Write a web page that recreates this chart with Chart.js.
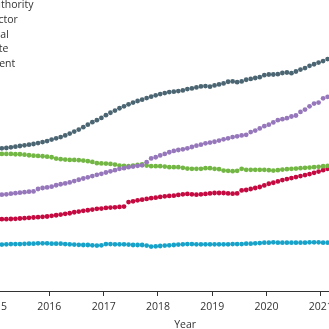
<!DOCTYPE html>
<html><head><meta charset="utf-8">
<script src="https://cdn.jsdelivr.net/npm/chart.js@4"></script>
<style>
html,body{margin:0;padding:0;width:329px;height:329px;overflow:hidden;background:#fff;}
#wrap{position:absolute;left:-60px;top:0;width:460px;height:332px;}
.lg{position:absolute;font-family:"Open Sans";font-size:10.5px;color:#333;white-space:nowrap;text-align:right;line-height:14px;}
</style></head><body>
<div id="wrap"><canvas id="c" width="460" height="332"></canvas></div>
<div id="legend"></div>
<script>
// ---- data ----
const months = [
"2015-01","2015-02","2015-03","2015-04","2015-05","2015-06","2015-07","2015-08","2015-09","2015-10","2015-11","2015-12",
"2016-01","2016-02","2016-03","2016-04","2016-05","2016-06","2016-07","2016-08","2016-09","2016-10","2016-11","2016-12",
"2017-01","2017-02","2017-03","2017-04","2017-05","2017-06","2017-07","2017-08","2017-09","2017-10","2017-11","2017-12",
"2018-01","2018-02","2018-03","2018-04","2018-05","2018-06","2018-07","2018-08","2018-09","2018-10","2018-11","2018-12",
"2019-01","2019-02","2019-03","2019-04","2019-05","2019-06","2019-07","2019-08","2019-09","2019-10","2019-11","2019-12",
"2020-01","2020-02","2020-03","2020-04","2020-05","2020-06","2020-07","2020-08","2020-09","2020-10","2020-11","2020-12",
"2021-01","2021-02","2021-03","2021-04","2021-05","2021-06"];

const seriesNames = ["Local authority","Voluntary sector","Individual","Private","Independent"];

const slate = [143.5,143.7,144,144.7,145.3,146,146.7,147.3,148,149,150,151,
152.5,153.7,155,156.7,158.5,160.5,162.5,165,167.5,170,172,174.3,
177,179.5,181.7,184,186,188,189.7,191.3,192.7,194.3,195.7,197,
198.3,199.3,200.3,200.7,201.3,202,203.3,204,205,206,206.3,205.7,
207,208,209,210.7,211,210.3,211,212.7,213.5,214.5,215.3,217.3,
218,218,218.3,219.5,220,219.3,221,223,224.5,226.7,228.3,230,
231.5,233.5,234.5,235.5,236.5,237.5];

const purple = [96.7,97,97.3,98,98.5,99,99.5,100,100.3,102.7,103.7,104.3,
105,106.5,107.5,108.3,109.3,110.7,112,113.3,114.5,115.7,117,118,
119.3,120.5,121.7,123,123.7,124.7,125.3,126,126.5,129.7,133.5,134.7,
136.5,138,139.7,141,142,142.7,143.7,145,146.3,147.3,148.7,149.5,
150.3,151.5,152.7,153.7,155,155.7,156.7,157.3,160,161.5,163.7,166,
167.5,169.7,172,173,174,175.7,176.7,180.3,182.7,186,188.7,189.7,
194,195.5,196,197,198,199];

const green = [138,138,138,138,137.7,137.7,137.3,136.7,136.3,136,135.7,135.3,
134.7,133.3,132.7,132.3,132,132,131.7,131.3,130.7,130,128.7,128.5,
128.3,128,127.3,126.3,126,125.7,126.3,127,127.5,126.3,125.7,125.7,
125.7,125.3,124.7,124.7,124.7,124,123.3,123,123,123,123.7,123.7,
123,122.7,121.3,121,120.7,121,123,122,122,122,122,122,
121.7,121.3,121.7,122.3,122.7,123,123.3,123.7,124,124.3,124.7,125,
125.7,126,126.3,126.7,127,127.3];

const crimson = [72.3,72.3,72.3,72.5,72.7,73,73.3,73.7,74,74.3,74.7,75,
75.7,76.3,77,77.7,78.3,79.3,80,80.7,81.3,82,82.7,83,
83.7,84,84.3,84.7,85,89.5,90.3,91.3,92,92.7,93.5,94,
94.7,95.3,95.7,96,96.7,97.3,97.7,97.3,97,97.3,97.7,98.3,
98.7,98.7,98.7,98.3,98,98.3,101.3,101.7,102.7,103.7,104.7,106.3,
108,109,110.3,111.7,112.7,113.7,114.7,115.7,116.7,117.7,119,120.3,
121.7,123,124,125,126,127];

const cyan = [46.5,46.7,47,47.3,47.3,47.3,47.5,47.7,47.7,48,48,48,
47.7,47.7,47.7,47.3,47,46.7,46.5,46.3,46.3,46,45.7,46,
47.3,47.3,47,47,47,46.7,46.3,46.3,46.3,45.7,44.7,45,
45.3,45.7,46,46.3,46.7,47,47.3,47.3,47,47,47,47,
47,47,47,47,47.3,47.3,47.3,47.7,47.7,48,48.3,48.7,
48.7,49,48.7,48.7,48.7,48.7,48.7,48.7,48.7,49,49,49,
48.7,48.7,48.7,48.7,48.7,48.7];

const yearTicks = [2015,2016,2017,2018,2019,2020,2021,2022];

// ---- styles ----
const seriesData = [slate, purple, green, crimson, cyan];
const colors = ["#4b6672","#9677bb","#72b743","#c40a40","#17a3c9"];
const FONT = '"Open Sans", "DejaVu Sans", sans-serif';
const TXT = '#333333';

function toYear(m){ const [y,mo]=m.split('-').map(Number); return y + (mo-0.5)/12; }

// legend (cropped at left edge like the reference)
const legendEnds = [33.5, 17.8, 8.8, 8.3, 15.3];
const lg = document.getElementById('legend');
seriesNames.forEach((n,i)=>{
  const d=document.createElement('div');
  d.className='lg';
  d.textContent=n;
  d.style.top=(-2.9 + i*14.75)+'px';
  d.style.right=(329-legendEnds[i])+'px';
  lg.appendChild(d);
});

new Chart(document.getElementById('c'), {
  type:'scatter',
  data:{datasets: seriesNames.map((n,k)=>({
    label:n,
    data: months.map((m,i)=>({x:toYear(m), y:seriesData[k][i]})),
    backgroundColor: colors[k],
    borderColor: colors[k],
    pointRadius:2.4,
    pointBorderWidth:0,
    pointHoverRadius:2.4,
    showLine:false
  }))},
  options:{
    responsive:false,
    devicePixelRatio:1,
    animation:false,
    layout:{padding:{left:44.2, right:14, top:3, bottom:0.8}},
    plugins:{legend:{display:false}, tooltip:{enabled:false}},
    scales:{
      x:{
        type:'linear', min:2014.8, max:2022.2,
        afterBuildTicks: s => { s.ticks = yearTicks.map(v=>({value:v})); },
        ticks:{callback:v=>String(v), font:{family:FONT,size:10.5}, color:TXT, padding:5, maxRotation:0, autoSkip:false},
        grid:{display:true, drawOnChartArea:false, drawTicks:true, tickLength:5, color:TXT, lineWidth:1},
        border:{display:true, color:TXT, width:1},
        title:{display:true, text:'Year', font:{family:FONT,size:10.5}, color:TXT, padding:{top:0,bottom:0}}
      },
      y:{display:false, min:0, max:290}
    }
  }
});
</script>
</body></html>
